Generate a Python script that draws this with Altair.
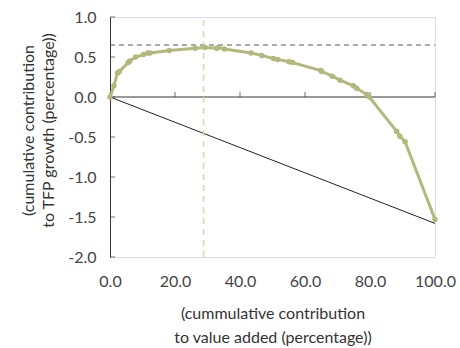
import altair as alt
import pandas as pd

# green curve: cumulative value added share vs cumulative TFP contribution
cum_va = [0.0, 1.2, 2.3, 2.9, 5.6, 6.1, 7.9, 10.3, 11.6, 12.3, 18.2, 26.2, 29.2,
          32.8, 33.3, 35.2, 43.4, 46.7, 50.3, 51.6, 55.1, 56.2, 64.9, 65.1, 68.4,
          70.8, 74.9, 75.9, 79.0, 79.8, 88.2, 89.2, 90.8, 100.0]
cum_tfp = [0.0, 0.14, 0.30, 0.32, 0.43, 0.45, 0.50, 0.53, 0.55, 0.55, 0.58, 0.61, 0.62,
           0.61, 0.62, 0.60, 0.55, 0.52, 0.48, 0.47, 0.44, 0.43, 0.33, 0.32, 0.26,
           0.21, 0.14, 0.11, 0.03, 0.00, -0.43, -0.49, -0.56, -1.53]

diag_x = [0.0, 100.0]
diag_y = [0.0, -1.58]

max_level = 0.65
max_x = 28.8

x_ticks = [0, 20, 40, 60, 80, 100]
y_ticks = [-2.0, -1.5, -1.0, -0.5, 0.0, 0.5, 1.0]

GREEN = "#b4b87a"
FONT = "Lato"
LABEL_EXPR = "datum.value < 0 ? '-' + format(-datum.value, '.1f') : format(datum.value, '.1f')"

curve = pd.DataFrame({"x": cum_va, "y": cum_tfp})
diag = pd.DataFrame({"x": diag_x, "y": diag_y})

xscale = alt.Scale(domain=[0, 100], nice=False)
yscale = alt.Scale(domain=[-2, 1], nice=False)

xaxis = alt.Axis(values=x_ticks, labelExpr=LABEL_EXPR, domain=False, ticks=False, grid=False,
                 labelFlush=False, labelOverlap=False,
                 labelFont=FONT, labelFontSize=16, labelColor="#444", labelPadding=16,
                 title=["(cummulative contribution", "to value added (percentage))"],
                 titleFont=FONT, titleFontSize=16, titleFontWeight="normal",
                 titleColor="#333", titlePadding=16, titleLineHeight=24)
yaxis = alt.Axis(tickCount=len(y_ticks), labelExpr=LABEL_EXPR, domain=True, domainColor="#333",
                 ticks=False, grid=False, labelFlush=False, labelOverlap=False,
                 labelBound=False,
                 labelFont=FONT, labelFontSize=16, labelColor="#444", labelPadding=14,
                 title=["(cumulative contribution", "to TFP growth (percentage))"],
                 titleFont=FONT, titleFontSize=16, titleFontWeight="normal",
                 titleColor="#333", titleLineHeight=20, titleY=113, titleX=-74)

ytick_marks = alt.Chart(pd.DataFrame({"x": [0.0] * len(y_ticks), "y": y_ticks})).mark_tick(
    orient="horizontal", size=5, thickness=1, xOffset=2.5, color="#333").encode(
    x=alt.X("x:Q", scale=xscale, axis=xaxis),
    y=alt.Y("y:Q", scale=yscale, axis=yaxis),
)

base_line = alt.Chart(diag).mark_line(color="#222", strokeWidth=1).encode(
    x="x:Q", y="y:Q")

zero_rule = alt.Chart(pd.DataFrame({"a": [0.0], "b": [100.0], "y": [0.0]})).mark_rule(
    color="#333", strokeWidth=1).encode(x="a:Q", x2="b:Q", y="y:Q")

xtick_marks = alt.Chart(pd.DataFrame({"x": x_ticks, "y": [0.0] * len(x_ticks)})).mark_tick(
    orient="vertical", size=5, thickness=1, yOffset=-2.5, color="#333").encode(
    x="x:Q", y="y:Q")

hline = alt.Chart(pd.DataFrame({"a": [0.0], "b": [100.0], "y": [max_level]})).mark_rule(
    color="#555", strokeWidth=1, strokeDash=[5, 4]).encode(x="a:Q", x2="b:Q", y="y:Q")

vline = alt.Chart(pd.DataFrame({"x": [max_x], "a": [-2.0], "b": [1.0]})).mark_rule(
    color="#d6d8b0", strokeWidth=1.5, strokeDash=[6, 5]).encode(x="x:Q", y="a:Q", y2="b:Q")

green_line = alt.Chart(curve).mark_line(color=GREEN, strokeWidth=3).encode(
    x="x:Q", y="y:Q", order=alt.Order("x:Q"))
green_pts = alt.Chart(curve).mark_point(color=GREEN, filled=True, size=30, opacity=1).encode(
    x="x:Q", y="y:Q")

chart = alt.layer(
    ytick_marks, base_line, zero_rule, xtick_marks, hline, vline, green_line, green_pts
).properties(
    width=325, height=240,
    autosize=alt.AutoSizeParams(type="none"),
    padding={"left": 110, "top": 17, "right": 25, "bottom": 91},
).configure_view(stroke=None).configure_axis(labelOverlap=False).configure(background="white")

chart.save("out.html", embed_options={"renderer": "svg", "actions": False})
